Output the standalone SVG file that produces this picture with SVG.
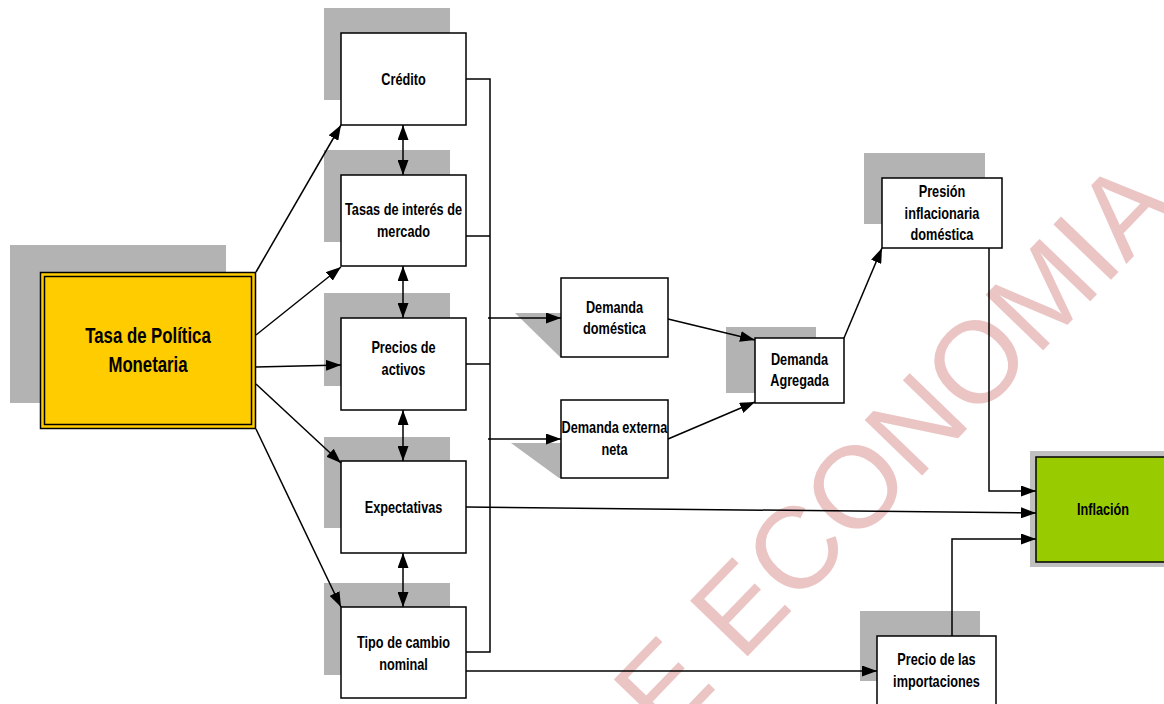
<svg xmlns="http://www.w3.org/2000/svg" width="1164" height="704" viewBox="0 0 1164 704">
<style>
.box{fill:#fff;stroke:#000;stroke-width:1.5}
.sh{fill:#b3b3b3}
.t{font-family:"Liberation Sans",Arial,sans-serif;font-weight:bold;font-size:16.5px;fill:#000;text-anchor:middle}
.big{font-size:21.5px}
.c{fill:none;stroke:#000;stroke-width:1.5}
.a{marker-end:url(#ah)}
.d{marker-end:url(#ah);marker-start:url(#ah)}
.wm{font-family:"Liberation Sans",Arial,sans-serif;font-size:116px;fill:#ebc4c4}
</style>
<defs>
<marker id="ah" markerUnits="userSpaceOnUse" markerWidth="15" markerHeight="11" refX="15" refY="5.5" orient="auto-start-reverse">
<path d="M0,0 L15,5.5 L0,11 z" fill="#000"/>
</marker>
</defs>
<rect width="1164" height="704" fill="#fff"/>
<g id="watermark">
<text class="wm" transform="translate(740,664) rotate(-46)" x="-192" y="0">DE ECONOMIA</text>
</g>
<g id="tpm">
<rect class="sh" x="10" y="245" width="216" height="158"/>
<rect x="40.5" y="272.5" width="215" height="156" fill="#ffcc00" stroke="#000" stroke-width="1.5"/>
<rect x="44.5" y="276.5" width="207" height="148" fill="none" stroke="#000" stroke-width="1.5"/>
<text class="t big" transform="translate(148,343) scale(0.78,1)">Tasa de Política</text>
<text class="t big" transform="translate(148,372) scale(0.78,1)">Monetaria</text>
</g>
<g id="credito">
<rect class="sh" x="324" y="8" width="126" height="92"/>
<rect class="box" x="341" y="33" width="125" height="92"/>
<text class="t" transform="translate(403.5,85) scale(0.77,1)">Crédito</text>
</g>
<g id="tasas">
<rect class="sh" x="324" y="150" width="126" height="92"/>
<rect class="box" x="341" y="175" width="125" height="91"/>
<text class="t" transform="translate(403.5,215) scale(0.77,1)">Tasas de interés de</text>
<text class="t" transform="translate(403.5,237) scale(0.77,1)">mercado</text>
</g>
<g id="precios">
<rect class="sh" x="324" y="293" width="126" height="93"/>
<rect class="box" x="341" y="318" width="125" height="92"/>
<text class="t" transform="translate(403.5,353) scale(0.77,1)">Precios de</text>
<text class="t" transform="translate(403.5,375) scale(0.77,1)">activos</text>
</g>
<g id="expectativas">
<rect class="sh" x="324" y="437" width="126" height="91"/>
<rect class="box" x="341" y="461" width="125" height="92"/>
<text class="t" transform="translate(403.5,513) scale(0.77,1)">Expectativas</text>
</g>
<g id="tipo">
<rect class="sh" x="324" y="583" width="126" height="92"/>
<rect class="box" x="341" y="607" width="125" height="91"/>
<text class="t" transform="translate(403.5,648) scale(0.77,1)">Tipo de cambio</text>
<text class="t" transform="translate(403.5,670) scale(0.77,1)">nominal</text>
</g>
<g id="dom">
<polygon class="sh" points="515,313 561,313 561,357 560,357"/>
<rect class="box" x="561" y="278" width="107" height="79"/>
<text class="t" transform="translate(614.5,313) scale(0.77,1)">Demanda</text>
<text class="t" transform="translate(614.5,334) scale(0.77,1)">doméstica</text>
</g>
<g id="ext">
<polygon class="sh" points="511,443 561,443 561,478 559,478"/>
<rect class="box" x="561" y="400" width="107" height="78"/>
<text class="t" transform="translate(614.5,433) scale(0.77,1)">Demanda externa</text>
<text class="t" transform="translate(614.5,455) scale(0.77,1)">neta</text>
</g>
<g id="agregada">
<rect class="sh" x="726" y="327" width="90" height="66"/>
<rect class="box" x="755" y="338" width="89" height="65"/>
<text class="t" transform="translate(799.5,365) scale(0.77,1)">Demanda</text>
<text class="t" transform="translate(799.5,386) scale(0.77,1)">Agregada</text>
</g>
<g id="presion">
<rect class="sh" x="864" y="153" width="121" height="71"/>
<rect class="box" x="882" y="178" width="120" height="70"/>
<text class="t" transform="translate(942,197) scale(0.77,1)">Presión</text>
<text class="t" transform="translate(942,218.5) scale(0.77,1)">inflacionaria</text>
<text class="t" transform="translate(942,240) scale(0.77,1)">doméstica</text>
</g>
<g id="inflacion">
<rect x="1030" y="451" width="140" height="116" fill="#c0c0c0"/>
<rect x="1036" y="457" width="134" height="105" fill="#99cc00" stroke="#000" stroke-width="1.5"/>
<text class="t" transform="translate(1103,515) scale(0.77,1)">Inflación</text>
</g>
<g id="importaciones">
<rect class="sh" x="860" y="611" width="120" height="70"/>
<rect class="box" x="877" y="636" width="119" height="75"/>
<text class="t" transform="translate(936.5,665) scale(0.77,1)">Precio de las</text>
<text class="t" transform="translate(936.5,687) scale(0.77,1)">importaciones</text>
</g>
<g id="connectors">
<line class="c a" x1="256" y1="272" x2="341" y2="125"/>
<line class="c a" x1="256" y1="335" x2="341" y2="267"/>
<line class="c a" x1="256" y1="367" x2="341" y2="365"/>
<line class="c a" x1="256" y1="384" x2="341" y2="463"/>
<line class="c a" x1="256" y1="429" x2="341" y2="607"/>
<line class="c d" x1="403" y1="125" x2="403" y2="175"/>
<line class="c d" x1="403" y1="266" x2="403" y2="318"/>
<line class="c d" x1="403" y1="410" x2="403" y2="461"/>
<line class="c d" x1="403" y1="553" x2="403" y2="607"/>
<polyline class="c" points="466,79 490,79 490,652 466,652"/>
<line class="c" x1="466" y1="236" x2="490" y2="236"/>
<line class="c" x1="466" y1="364" x2="490" y2="364"/>
<line class="c a" x1="488" y1="318" x2="561" y2="318"/>
<line class="c a" x1="488" y1="439" x2="561" y2="439"/>
<line class="c a" x1="668" y1="319" x2="755" y2="340"/>
<line class="c a" x1="668" y1="439" x2="755" y2="402"/>
<line class="c a" x1="844" y1="338" x2="882" y2="248"/>
<polyline class="c a" points="989,248 989,491 1036,491"/>
<line class="c a" x1="466" y1="507" x2="1036" y2="513"/>
<polyline class="c a" points="952,636 952,539 1036,539"/>
<line class="c a" x1="466" y1="671" x2="877" y2="671"/>
</g>
</svg>
